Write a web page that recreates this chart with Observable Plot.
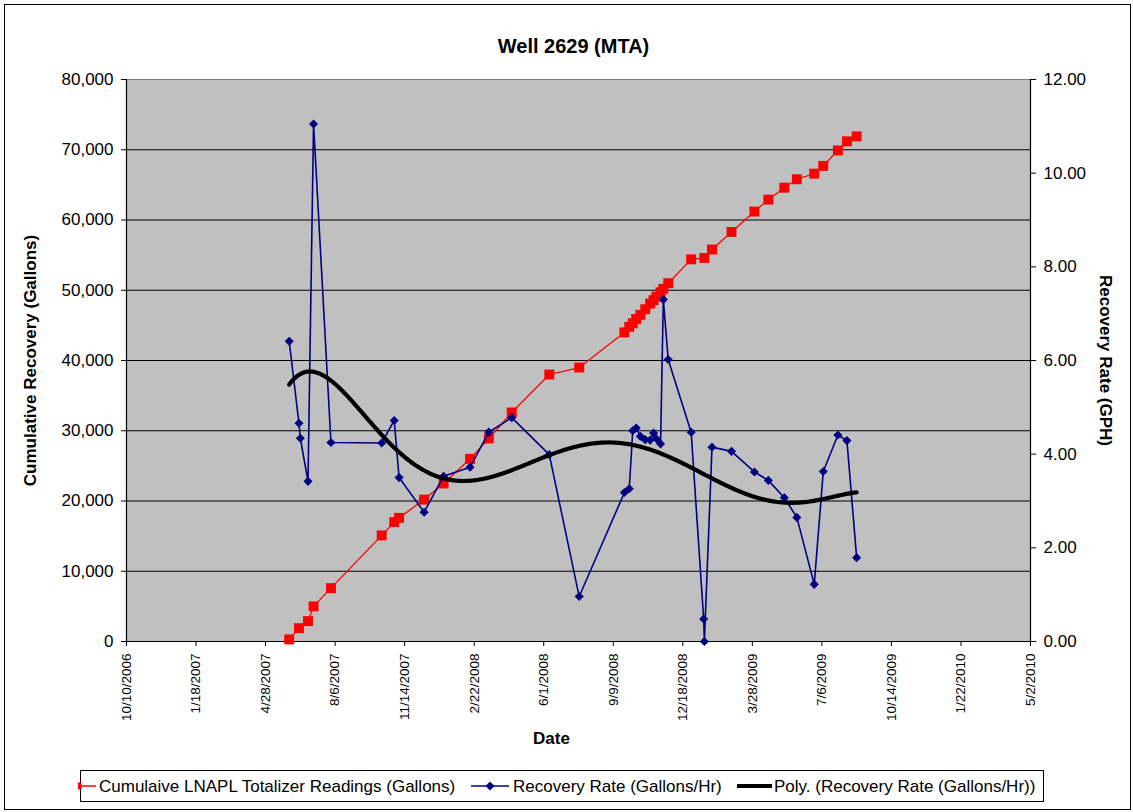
<!DOCTYPE html>
<html><head><meta charset="utf-8">
<script src="https://cdn.jsdelivr.net/npm/d3@7"></script>
<script src="https://cdn.jsdelivr.net/npm/@observablehq/plot@0.6"></script>
<style>
body{margin:0;background:#fff;font-family:'Liberation Sans',Arial,sans-serif;}
#wrap{position:relative;width:1133px;height:812px;overflow:hidden;background:#fff;}
#chart{position:absolute;left:0;top:0;}
#legend{position:absolute;left:78px;top:770px;}
#border{position:absolute;left:4px;top:4px;width:1127px;height:806px;box-sizing:border-box;border:1px solid #000;pointer-events:none;}
</style></head><body>
<div id="wrap"><div id="chart"></div><div id="legend"></div><div id="border"></div></div>
<script>
const title = "Well 2629 (MTA)";
const yTitleLeft = "Cumulative Recovery (Gallons)";
const yTitleRight = "Recovery Rate (GPH)";
const xTitle = "Date";
const legendLabels = ["Cumulaive LNAPL Totalizer Readings (Gallons)", "Recovery Rate (Gallons/Hr)", "Poly. (Recovery Rate (Gallons/Hr))"];

const xTickLabels = ["10/10/2006","1/18/2007","4/28/2007","8/6/2007","11/14/2007","2/22/2008","6/1/2008","9/9/2008","12/18/2008","3/28/2009","7/6/2009","10/14/2009","1/22/2010","5/2/2010"];
const leftTicks = [0,10000,20000,30000,40000,50000,60000,70000,80000];
const rightTicks = [0,2,4,6,8,10,12];

const cumDates = ["2007-06-01","2007-06-15","2007-06-28","2007-07-06","2007-07-31","2007-10-12","2007-10-30","2007-11-06","2007-12-12","2008-01-09","2008-02-16","2008-03-14","2008-04-16","2008-06-09","2008-07-22","2008-09-25","2008-10-02","2008-10-07","2008-10-12","2008-10-18","2008-10-25","2008-11-01","2008-11-06","2008-11-10","2008-11-16","2008-11-20","2008-11-27","2008-12-30","2009-01-18","2009-01-29","2009-02-26","2009-03-31","2009-04-20","2009-05-13","2009-05-31","2009-06-25","2009-07-08","2009-07-29","2009-08-11","2009-08-25"];
const cumGallons = [300,1900,2900,5000,7600,15100,17000,17600,20200,22500,26000,28900,32600,38000,39000,44000,44800,45300,45900,46500,47300,48100,48600,49100,49700,50200,51000,54400,54600,55800,58300,61200,62900,64600,65800,66600,67700,69900,71200,71900];

const rateDates = ["2007-06-01","2007-06-15","2007-06-17","2007-06-28","2007-07-06","2007-07-31","2007-10-12","2007-10-30","2007-11-06","2007-12-12","2008-01-09","2008-02-16","2008-03-14","2008-04-16","2008-06-09","2008-07-22","2008-09-25","2008-10-02","2008-10-07","2008-10-12","2008-10-18","2008-10-25","2008-11-01","2008-11-06","2008-11-10","2008-11-16","2008-11-20","2008-11-27","2008-12-30","2009-01-17","2009-01-18","2009-01-29","2009-02-26","2009-03-31","2009-04-20","2009-05-13","2009-05-31","2009-06-25","2009-07-08","2009-07-29","2009-08-11","2009-08-25"];
const rateGph = [6.41,4.66,4.34,3.42,11.05,4.25,4.24,4.72,3.50,2.76,3.53,3.72,4.47,4.78,3.99,0.96,3.18,3.26,4.50,4.56,4.38,4.31,4.30,4.45,4.33,4.22,7.30,6.02,4.47,0.48,0.00,4.15,4.06,3.62,3.44,3.07,2.65,1.22,3.63,4.41,4.29,1.79];

const polyOrder = 6;

// ---- build ----
const parseTick = d3.utcParse("%m/%d/%Y");
const fmtTick = d3.utcFormat("%-m/%-d/%Y");
const xTicks = xTickLabels.map(parseTick);
const start = xTicks[0], end = xTicks[xTicks.length - 1];
const K = leftTicks[leftTicks.length - 1] / rightTicks[rightTicks.length - 1];

const cum = cumDates.map((d, i) => ({date: new Date(d), v: cumGallons[i]}));
const rate = rateDates.map((d, i) => ({date: new Date(d), v: rateGph[i]}));

// least-squares polynomial trendline (as Excel "Poly." trendline)
const dayOf = d => (d - start) / 864e5;
const xs = rate.map(d => dayOf(d.date)), ys = rate.map(d => d.v);
const mx = d3.mean(xs), sx = 400, n = polyOrder + 1;
const A = Array.from({length: n}, () => new Array(n).fill(0)), b = new Array(n).fill(0);
xs.forEach((x, i) => {
  const t = (x - mx) / sx, p = [];
  for (let k = 0; k < n; k++) p.push(Math.pow(t, k));
  for (let r = 0; r < n; r++) { b[r] += p[r] * ys[i]; for (let c = 0; c < n; c++) A[r][c] += p[r] * p[c]; }
});
for (let col = 0; col < n; col++) {
  let piv = col;
  for (let r = col + 1; r < n; r++) if (Math.abs(A[r][col]) > Math.abs(A[piv][col])) piv = r;
  [A[col], A[piv]] = [A[piv], A[col]]; [b[col], b[piv]] = [b[piv], b[col]];
  for (let r = col + 1; r < n; r++) {
    const f = A[r][col] / A[col][col];
    for (let c = col; c < n; c++) A[r][c] -= f * A[col][c];
    b[r] -= f * b[col];
  }
}
const coef = new Array(n).fill(0);
for (let r = n - 1; r >= 0; r--) { let s = b[r]; for (let c = r + 1; c < n; c++) s -= A[r][c] * coef[c]; coef[r] = s / A[r][r]; }
const polyAt = x => { const t = (x - mx) / sx; let s = 0; for (let k = 0; k < n; k++) s += coef[k] * Math.pow(t, k); return s; };
const x0 = d3.min(xs), x1 = d3.max(xs);
const trend = d3.range(x0, x1 + 0.5, 2).map(x => ({date: new Date(+start + x * 864e5), v: polyAt(x)}));

const FONT = "'Liberation Sans', Arial, sans-serif";
const chart = Plot.plot({
  width: 1133, height: 812,
  marginLeft: 126, marginRight: 103, marginTop: 79, marginBottom: 171,
  style: {fontFamily: FONT, fontSize: "17px", color: "#000", background: "transparent", overflow: "visible"},
  x: {type: "utc", domain: [start, end]},
  y: {domain: [leftTicks[0], leftTicks[leftTicks.length - 1]]},
  marks: [
    Plot.frame({fill: "#C0C0C0", stroke: "#808080"}),
    Plot.gridY(leftTicks.slice(1, -1), {stroke: "#000", strokeOpacity: 1, strokeWidth: 1}),
    Plot.ruleX([start, end], {stroke: "#000", strokeWidth: 1.2}),
    Plot.ruleY([leftTicks[0]], {stroke: "#000", strokeWidth: 1.2}),
    Plot.line(cum, {x: "date", y: "v", stroke: "#FF0000", strokeWidth: 1.3}),
    Plot.dot(cum, {x: "date", y: "v", symbol: "square", r: 5.6, fill: "#FF0000", stroke: "none"}),
    Plot.line(rate, {x: "date", y: d => d.v * K, stroke: "#000080", strokeWidth: 1.6}),
    Plot.dot(rate, {x: "date", y: d => d.v * K, symbol: "diamond2", r: 4.1, fill: "#000080", stroke: "none"}),
    Plot.line(trend, {x: "date", y: d => d.v * K, stroke: "#000", strokeWidth: 4.2}),
    Plot.axisY(leftTicks, {anchor: "left", tickSize: 5, tickPadding: 8, tickFormat: d3.format(","), fontSize: 17, label: null}),
    Plot.axisY(rightTicks.map(v => v * K), {anchor: "right", tickSize: 5, tickPadding: 8, tickFormat: d => (d / K).toFixed(2), fontSize: 17, label: null}),
    Plot.axisX(xTicks, {anchor: "bottom", tickSize: 5, tickPadding: 7, tickRotate: -90, tickFormat: fmtTick, fontSize: 13.5, label: null}),
    Plot.text([title], {text: d => d, frameAnchor: "top", lineAnchor: "middle", textAnchor: "middle", dy: -33, dx: -5, fontSize: 20, fontWeight: "bold"}),
    Plot.text([yTitleLeft], {text: d => d, frameAnchor: "left", lineAnchor: "middle", textAnchor: "middle", dx: -96, rotate: -90, fontSize: 17, fontWeight: "bold"}),
    Plot.text([yTitleRight], {text: d => d, frameAnchor: "right", lineAnchor: "middle", textAnchor: "middle", dx: 75, rotate: 90, fontSize: 17, fontWeight: "bold"}),
    Plot.text([xTitle], {text: d => d, frameAnchor: "bottom", lineAnchor: "middle", textAnchor: "middle", dy: 97, dx: -27, fontSize: 17, fontWeight: "bold"})
  ]
});
document.getElementById("chart").appendChild(chart);

// ---- legend ----
const lg = d3.select("#legend").append("svg").attr("width", 968).attr("height", 34)
  .style("font-family", FONT).style("font-size", "17px").style("overflow", "hidden");
lg.append("rect").attr("x", 2.5).attr("y", 0.5).attr("width", 963).attr("height", 31)
  .attr("fill", "#fff").attr("stroke", "#000");
const cy = 16;
// red key
lg.append("line").attr("x1", 2).attr("x2", 18).attr("y1", cy).attr("y2", cy).attr("stroke", "#FF0000").attr("stroke-width", 1.5);
lg.append("rect").attr("x", -3.5).attr("y", cy - 3.5).attr("width", 7).attr("height", 7).attr("fill", "#FF0000");
lg.append("text").attr("x", 21).attr("y", cy + 6).text(legendLabels[0]);
// blue key
lg.append("line").attr("x1", 393).attr("x2", 431).attr("y1", cy).attr("y2", cy).attr("stroke", "#000080").attr("stroke-width", 1.5);
lg.append("path").attr("d", `M412,${cy - 4.5}L416.5,${cy}L412,${cy + 4.5}L407.5,${cy}Z`).attr("fill", "#000080");
lg.append("text").attr("x", 435).attr("y", cy + 6).text(legendLabels[1]);
// black key
lg.append("line").attr("x1", 659).attr("x2", 694).attr("y1", cy).attr("y2", cy).attr("stroke", "#000").attr("stroke-width", 4);
lg.append("text").attr("x", 696).attr("y", cy + 6).text(legendLabels[2]);
</script>
</body></html>
